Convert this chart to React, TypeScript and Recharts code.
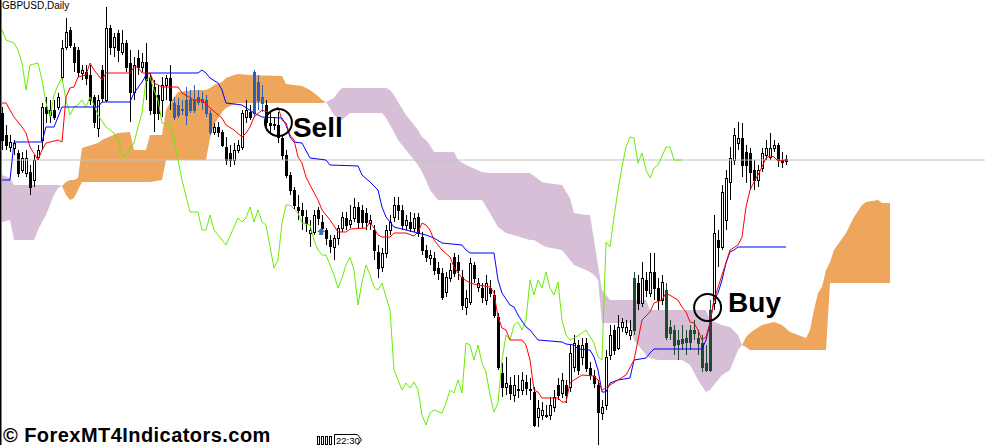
import {
  Area,
  Bar,
  ComposedChart,
  Line,
  ReferenceDot,
  ReferenceLine,
  XAxis,
  YAxis,
} from "recharts";

// daily bars: [open, high, low, close]
const ohlc: [number, number, number, number][] = [
  [1.3387, 1.3393, 1.335, 1.336], [1.3365, 1.3375, 1.335, 1.3355], [1.3353, 1.3365, 1.3348, 1.3358],
  [1.3352, 1.336, 1.3345, 1.3357], [1.3347, 1.335, 1.3323, 1.3327], [1.333, 1.3348, 1.3327, 1.3342],
  [1.3327, 1.335, 1.3323, 1.3342], [1.3328, 1.3335, 1.3305, 1.3313], [1.332, 1.3345, 1.3313, 1.334],
  [1.3343, 1.3355, 1.334, 1.335], [1.336, 1.3397, 1.335, 1.3393], [1.3393, 1.3403, 1.3377, 1.3387],
  [1.3385, 1.34, 1.3377, 1.339], [1.339, 1.34, 1.338, 1.3383], [1.3393, 1.3407, 1.339, 1.3403],
  [1.3423, 1.346, 1.3418, 1.3452], [1.3453, 1.3482, 1.345, 1.3468], [1.347, 1.3473, 1.3452, 1.3455],
  [1.3453, 1.3457, 1.3428, 1.3438], [1.345, 1.3453, 1.3423, 1.3428], [1.3427, 1.3435, 1.342, 1.343],
  [1.3428, 1.3435, 1.3415, 1.3422], [1.3425, 1.3435, 1.3395, 1.34], [1.3403, 1.3405, 1.3372, 1.3378],
  [1.3372, 1.3405, 1.3363, 1.34], [1.343, 1.3435, 1.3398, 1.3402], [1.34, 1.3493, 1.3398, 1.3472],
  [1.3472, 1.3475, 1.3445, 1.3453], [1.3453, 1.3467, 1.3443, 1.3463], [1.3467, 1.347, 1.3438, 1.345],
  [1.3448, 1.347, 1.3445, 1.3457], [1.3457, 1.346, 1.3428, 1.3433], [1.3437, 1.345, 1.3378, 1.3408],
  [1.3408, 1.3443, 1.34, 1.3435], [1.3442, 1.345, 1.3425, 1.3433], [1.3433, 1.3447, 1.3428, 1.3438],
  [1.3438, 1.3457, 1.34, 1.342], [1.3423, 1.3427, 1.3385, 1.339], [1.3413, 1.342, 1.3368, 1.3387],
  [1.3405, 1.3415, 1.338, 1.3387], [1.34, 1.3423, 1.3383, 1.3415], [1.3415, 1.3425, 1.34, 1.3422],
  [1.3422, 1.3435, 1.339, 1.34], [1.3397, 1.3403, 1.338, 1.3383], [1.3385, 1.3402, 1.3382, 1.3395],
  [1.3391, 1.34, 1.3385, 1.339], [1.3385, 1.3413, 1.3375, 1.34], [1.339, 1.341, 1.3387, 1.3401],
  [1.34, 1.3415, 1.3387, 1.339], [1.3398, 1.341, 1.3395, 1.3403], [1.3401, 1.3408, 1.339, 1.3398],
  [1.34, 1.3405, 1.3383, 1.3387], [1.3387, 1.339, 1.3365, 1.3368], [1.3368, 1.3377, 1.3365, 1.3373],
  [1.3373, 1.3378, 1.3363, 1.3368], [1.3368, 1.337, 1.3353, 1.3355], [1.3353, 1.3363, 1.3335, 1.334],
  [1.3347, 1.3355, 1.3333, 1.334], [1.334, 1.3357, 1.3335, 1.335], [1.335, 1.336, 1.3347, 1.3355],
  [1.3353, 1.339, 1.335, 1.3387], [1.3383, 1.34, 1.3377, 1.339], [1.3388, 1.3395, 1.338, 1.3383],
  [1.3387, 1.343, 1.3383, 1.3428], [1.3418, 1.3425, 1.339, 1.34], [1.3403, 1.3415, 1.3388, 1.3397],
  [1.3395, 1.34, 1.337, 1.3378], [1.3377, 1.3387, 1.3367, 1.3375], [1.3375, 1.3383, 1.337, 1.3376],
  [1.3375, 1.3388, 1.3357, 1.3363], [1.3362, 1.3365, 1.334, 1.3345], [1.3345, 1.335, 1.3322, 1.3325],
  [1.3325, 1.3328, 1.3305, 1.331], [1.331, 1.3313, 1.329, 1.3295], [1.3293, 1.3305, 1.328, 1.329],
  [1.329, 1.3297, 1.327, 1.3285], [1.3283, 1.329, 1.3268, 1.3277], [1.3267, 1.328, 1.3253, 1.327],
  [1.3268, 1.329, 1.3265, 1.3285], [1.329, 1.3293, 1.3275, 1.3282], [1.3278, 1.3285, 1.3267, 1.3272],
  [1.327, 1.3272, 1.3255, 1.3262], [1.326, 1.3265, 1.3247, 1.3254], [1.3253, 1.3265, 1.324, 1.3262],
  [1.3262, 1.3275, 1.3255, 1.3272], [1.3272, 1.3288, 1.3268, 1.3283], [1.3282, 1.3288, 1.327, 1.3275],
  [1.3276, 1.3295, 1.3272, 1.328], [1.3282, 1.3302, 1.3278, 1.3293], [1.3293, 1.3298, 1.3272, 1.3278],
  [1.329, 1.3295, 1.3272, 1.3278], [1.3287, 1.3292, 1.327, 1.3278], [1.3277, 1.3285, 1.327, 1.328],
  [1.327, 1.3275, 1.324, 1.325], [1.3248, 1.3255, 1.3222, 1.3232], [1.3233, 1.3252, 1.3228, 1.3247],
  [1.3247, 1.3275, 1.3242, 1.327], [1.327, 1.3285, 1.3265, 1.3278], [1.3283, 1.3303, 1.3278, 1.3295],
  [1.3295, 1.3303, 1.328, 1.329], [1.329, 1.3295, 1.327, 1.3275], [1.3275, 1.3285, 1.327, 1.328],
  [1.3278, 1.3288, 1.3268, 1.3272], [1.3272, 1.3287, 1.3268, 1.3282], [1.3283, 1.3287, 1.3263, 1.3267],
  [1.3263, 1.3268, 1.3245, 1.325], [1.325, 1.3255, 1.3238, 1.3243], [1.3242, 1.325, 1.3235, 1.3245],
  [1.3242, 1.3248, 1.3225, 1.323], [1.3232, 1.3238, 1.322, 1.3227], [1.3227, 1.3232, 1.32, 1.3203],
  [1.3208, 1.3228, 1.3203, 1.3223], [1.3222, 1.3237, 1.3218, 1.323], [1.3243, 1.3247, 1.3223, 1.3227],
  [1.3238, 1.3245, 1.322, 1.323], [1.3223, 1.323, 1.319, 1.3195], [1.3193, 1.321, 1.3185, 1.3202],
  [1.3198, 1.3242, 1.3195, 1.3237], [1.3235, 1.3238, 1.3217, 1.3222], [1.3213, 1.3222, 1.3208, 1.3217],
  [1.3212, 1.3217, 1.3197, 1.3203], [1.32, 1.3225, 1.3195, 1.3217], [1.3212, 1.322, 1.3203, 1.3207],
  [1.3205, 1.321, 1.3182, 1.3185], [1.3183, 1.3187, 1.313, 1.3133], [1.3127, 1.3137, 1.3103, 1.3113],
  [1.3113, 1.3143, 1.3105, 1.3117], [1.3115, 1.3123, 1.31, 1.3107], [1.3105, 1.3125, 1.3098, 1.3115],
  [1.3111, 1.3125, 1.3102, 1.311], [1.311, 1.3128, 1.3105, 1.312], [1.3118, 1.3125, 1.3105, 1.3112],
  [1.311, 1.3122, 1.31, 1.3111], [1.3108, 1.3113, 1.3073, 1.3075], [1.3083, 1.31, 1.3073, 1.3092],
  [1.3085, 1.3098, 1.308, 1.309], [1.3084, 1.3095, 1.3082, 1.3085], [1.3085, 1.3103, 1.308, 1.3095],
  [1.3093, 1.311, 1.3088, 1.3103], [1.3115, 1.3122, 1.31, 1.3105], [1.3107, 1.3127, 1.3102, 1.312],
  [1.3115, 1.312, 1.3097, 1.3105], [1.3113, 1.3155, 1.3108, 1.3147], [1.3133, 1.3165, 1.3128, 1.3157],
  [1.3155, 1.316, 1.3125, 1.313], [1.3143, 1.3162, 1.3135, 1.3155], [1.3157, 1.3162, 1.3128, 1.3132],
  [1.3132, 1.3138, 1.312, 1.3125], [1.3124, 1.313, 1.3112, 1.3117], [1.3115, 1.312, 1.3055, 1.3088],
  [1.3087, 1.31, 1.308, 1.3093], [1.3095, 1.315, 1.309, 1.3143], [1.3145, 1.3175, 1.314, 1.3165],
  [1.317, 1.3175, 1.3145, 1.315], [1.3152, 1.3185, 1.315, 1.3173], [1.3173, 1.3182, 1.3168, 1.3178],
  [1.3168, 1.318, 1.3165, 1.3173], [1.3165, 1.318, 1.316, 1.317], [1.317, 1.3228, 1.3165, 1.3222],
  [1.3217, 1.3225, 1.319, 1.3197], [1.3197, 1.3238, 1.3193, 1.3222], [1.322, 1.3228, 1.3203, 1.321],
  [1.3207, 1.3247, 1.3203, 1.3228], [1.3228, 1.3247, 1.32, 1.3212], [1.3212, 1.3222, 1.319, 1.32],
  [1.32, 1.3225, 1.3195, 1.3218], [1.321, 1.3217, 1.316, 1.3163], [1.3173, 1.318, 1.316, 1.3167],
  [1.317, 1.3175, 1.3145, 1.3155], [1.3156, 1.317, 1.314, 1.316], [1.3157, 1.3175, 1.315, 1.3161],
  [1.3158, 1.317, 1.3145, 1.3162], [1.3158, 1.3175, 1.315, 1.317], [1.3167, 1.318, 1.316, 1.317],
  [1.3162, 1.317, 1.3145, 1.3157], [1.3157, 1.3165, 1.3128, 1.3133], [1.3137, 1.3155, 1.3128, 1.313],
  [1.313, 1.32, 1.3128, 1.319], [1.3197, 1.3285, 1.319, 1.3267], [1.326, 1.327, 1.3233, 1.3253],
  [1.3253, 1.3315, 1.325, 1.3308], [1.328, 1.333, 1.327, 1.3322], [1.3318, 1.3353, 1.33, 1.3342],
  [1.334, 1.3372, 1.3335, 1.3365], [1.3357, 1.3378, 1.335, 1.3362], [1.3362, 1.3377, 1.3323, 1.3335],
  [1.3348, 1.3355, 1.3317, 1.3335], [1.3347, 1.3352, 1.331, 1.3328], [1.333, 1.334, 1.331, 1.332],
  [1.332, 1.3335, 1.3313, 1.333], [1.3332, 1.3352, 1.3328, 1.3347], [1.3345, 1.336, 1.334, 1.3352],
  [1.3343, 1.3367, 1.334, 1.3352], [1.3352, 1.336, 1.3348, 1.3355], [1.3355, 1.3357, 1.3333, 1.334],
  [1.334, 1.3348, 1.3332, 1.3338], [1.3341, 1.3345, 1.3335, 1.3339],
];

// ichimoku lines: [bar, price]
const tenkan: [number, number][] = [
  [0, 1.3397], [1, 1.3397], [2, 1.339], [3, 1.3383], [5, 1.3373], [6, 1.3367], [7, 1.3353], [9, 1.334],
  [10, 1.335], [11, 1.3357], [14, 1.336], [15, 1.3358], [16, 1.3403], [17, 1.3412], [18, 1.3413],
  [19, 1.3423], [21, 1.3425], [22, 1.3437], [23, 1.343], [25, 1.342], [26, 1.3427], [32, 1.3427],
  [33, 1.3433], [34, 1.3433], [35, 1.3427], [37, 1.3427], [38, 1.3417], [40, 1.3413], [44, 1.3413],
  [45, 1.3407], [48, 1.34], [50, 1.34], [52, 1.3392], [55, 1.3382], [56, 1.3375], [58, 1.337],
  [60, 1.3363], [61, 1.3367], [62, 1.3373], [63, 1.3383], [65, 1.339], [67, 1.3387], [69, 1.3393],
  [70, 1.338], [71, 1.3377], [72, 1.3365], [73, 1.336], [74, 1.3343], [75, 1.3337], [76, 1.3323],
  [77, 1.3315], [79, 1.33], [80, 1.329], [82, 1.328], [84, 1.3268], [86, 1.3268], [87, 1.3271],
  [91, 1.3272], [92, 1.3278], [93, 1.3272], [94, 1.3265], [95, 1.3263], [97, 1.3263], [98, 1.3267],
  [101, 1.3267], [103, 1.3264], [104, 1.3268], [105, 1.3277], [106, 1.3275], [107, 1.327], [108, 1.326],
  [110, 1.325], [112, 1.3243], [113, 1.3233], [114, 1.3227], [115, 1.3222], [117, 1.3217], [119, 1.3215],
  [122, 1.3213], [123, 1.3207], [124, 1.3183], [125, 1.3172], [126, 1.317], [127, 1.316], [130, 1.316],
  [131, 1.3155], [132, 1.314], [133, 1.311], [134, 1.3108], [135, 1.3102], [139, 1.3102], [140, 1.3098],
  [141, 1.3098], [142, 1.3117], [143, 1.312], [145, 1.3125], [148, 1.3124], [149, 1.312], [150, 1.311],
  [152, 1.3115], [156, 1.3125], [158, 1.314], [160, 1.318], [162, 1.3188], [163, 1.3197], [165, 1.32],
  [166, 1.3207], [169, 1.32], [170, 1.3193], [171, 1.3188], [172, 1.3178], [173, 1.3177], [174, 1.317],
  [175, 1.316], [176, 1.3163], [177, 1.3177], [178, 1.32], [180, 1.3225], [182, 1.325], [184, 1.3255],
  [185, 1.3263], [186, 1.3293], [187, 1.331], [188, 1.3318], [189, 1.3325], [190, 1.3333], [191, 1.3342],
  [192, 1.3344], [193, 1.3343], [194, 1.3339], [196, 1.334],
];

const kijun: [number, number][] = [
  [0, 1.332], [2, 1.332], [3, 1.3358], [10, 1.3358], [11, 1.3373], [13, 1.3373], [15, 1.3393], [24, 1.3393],
  [25, 1.3398], [32, 1.3398], [33, 1.3407], [35, 1.3418], [36, 1.3425], [37, 1.3427], [49, 1.3427],
  [50, 1.343], [51, 1.3427], [52, 1.3422], [54, 1.3417], [55, 1.341], [56, 1.3397], [60, 1.3395],
  [63, 1.3387], [65, 1.3383], [70, 1.3382], [71, 1.3375], [72, 1.3363], [73, 1.3358], [75, 1.3357],
  [77, 1.3342], [81, 1.334], [82, 1.3335], [89, 1.3334], [90, 1.3325], [92, 1.3318], [94, 1.331],
  [95, 1.3293], [96, 1.3283], [98, 1.3273], [101, 1.327], [104, 1.3267], [106, 1.3265], [108, 1.3262],
  [110, 1.3257], [115, 1.3255], [116, 1.325], [117, 1.3247], [123, 1.3247], [124, 1.322], [125, 1.3207],
  [127, 1.3195], [128, 1.3193], [129, 1.3185], [131, 1.3173], [132, 1.317], [134, 1.316], [140, 1.3158],
  [141, 1.3156], [143, 1.3155], [144, 1.3151], [147, 1.315], [148, 1.3143], [149, 1.313], [150, 1.3108],
  [151, 1.3108], [152, 1.3117], [154, 1.312], [157, 1.3122], [158, 1.314], [161, 1.3142], [162, 1.3147],
  [163, 1.3151], [175, 1.3151], [176, 1.316], [177, 1.3177], [178, 1.32], [179, 1.3207], [180, 1.322],
  [181, 1.3237], [182, 1.3248], [183, 1.325], [184, 1.3253], [196, 1.3253],
];

const chikou: [number, number][] = [
  [0, 1.347], [1, 1.346], [3, 1.3457], [4, 1.345], [5, 1.3437], [6, 1.341], [7, 1.3435], [9, 1.3437],
  [10, 1.342], [11, 1.3397], [12, 1.3383], [13, 1.3405], [14, 1.3415], [15, 1.3422], [16, 1.34],
  [17, 1.3385], [18, 1.3393], [19, 1.3395], [20, 1.34], [21, 1.3393], [22, 1.3403], [23, 1.3395],
  [24, 1.3385], [26, 1.3373], [28, 1.3367], [29, 1.336], [30, 1.3343], [31, 1.3345], [33, 1.3357],
  [34, 1.3373], [35, 1.3387], [36, 1.342], [37, 1.3423], [38, 1.341], [39, 1.34], [40, 1.3377],
  [42, 1.3375], [43, 1.336], [45, 1.332], [47, 1.3288], [49, 1.3288], [50, 1.327], [51, 1.327],
  [52, 1.3285], [53, 1.327], [56, 1.3255], [58, 1.3273], [59, 1.3282], [60, 1.3278], [61, 1.3282],
  [62, 1.3293], [63, 1.3278], [64, 1.329], [65, 1.3278], [66, 1.3275], [68, 1.3232], [69, 1.324],
  [70, 1.3277], [71, 1.3295], [72, 1.3295], [74, 1.3287], [75, 1.3277], [77, 1.3275], [78, 1.326],
  [79, 1.325], [80, 1.3245], [81, 1.3245], [82, 1.3235], [83, 1.3225], [84, 1.3212], [85, 1.3222],
  [86, 1.3235], [87, 1.3243], [88, 1.323], [89, 1.3195], [90, 1.3218], [91, 1.3235], [92, 1.3225],
  [93, 1.3213], [94, 1.321], [95, 1.3217], [96, 1.3203], [97, 1.319], [98, 1.313], [99, 1.312],
  [100, 1.311], [101, 1.3117], [102, 1.3112], [103, 1.3118], [104, 1.311], [105, 1.3085], [106, 1.3075],
  [107, 1.3087], [108, 1.309], [110, 1.3087], [111, 1.3097], [112, 1.311], [113, 1.3107], [114, 1.312],
  [115, 1.3107], [116, 1.3157], [117, 1.3155], [118, 1.314], [119, 1.3155], [120, 1.3137], [121, 1.3128],
  [122, 1.3105], [123, 1.3088], [124, 1.3097], [125, 1.314], [126, 1.3165], [127, 1.316], [128, 1.3175],
  [129, 1.3178], [130, 1.317], [131, 1.318], [132, 1.322], [133, 1.3205], [134, 1.322], [135, 1.3212],
  [136, 1.3228], [137, 1.3212], [138, 1.3205], [139, 1.3218], [140, 1.318], [141, 1.3165], [142, 1.316],
  [143, 1.3162], [145, 1.3167], [146, 1.317], [148, 1.3157], [149, 1.3143], [150, 1.314], [151, 1.3258],
  [152, 1.3253], [153, 1.3283], [154, 1.331], [155, 1.3333], [156, 1.3353], [157, 1.3363], [158, 1.3362],
  [159, 1.3337], [160, 1.3347], [161, 1.333], [162, 1.3322], [163, 1.3332], [164, 1.3335], [166, 1.3353],
  [167, 1.3353], [168, 1.334], [170, 1.334],
];

// kumo, shifted 26 bars ahead: [bar, senkou A, senkou B]
const kumo: [number, number, number][] = [
  [0, 1.3278, 1.3325], [2, 1.328, 1.3322], [3, 1.326, 1.3315], [8, 1.326, 1.3315], [9, 1.327, 1.3315],
  [10, 1.3278, 1.3315], [11, 1.3285, 1.3315], [12, 1.3295, 1.3315], [13, 1.3305, 1.3315],
  [14, 1.3312, 1.3315], [15, 1.3314, 1.3314], [16, 1.3318, 1.3305], [17, 1.332, 1.33], [18, 1.332, 1.3302],
  [19, 1.3322, 1.331], [20, 1.3352, 1.3318], [24, 1.3357, 1.3318], [25, 1.336, 1.3318], [29, 1.3367, 1.3318],
  [32, 1.3368, 1.3318], [33, 1.335, 1.3318], [36, 1.335, 1.3318], [37, 1.3365, 1.3318], [40, 1.3365, 1.332],
  [41, 1.339, 1.334], [42, 1.3397, 1.334], [44, 1.3408, 1.334], [48, 1.341, 1.334], [51, 1.341, 1.334],
  [52, 1.3412, 1.3362], [53, 1.3415, 1.3375], [55, 1.3418, 1.3388], [56, 1.3422, 1.3392], [58, 1.3425, 1.3396],
  [59, 1.3426, 1.3397], [62, 1.3425, 1.3397], [70, 1.3424, 1.3397], [71, 1.3416, 1.3397], [75, 1.3414, 1.3397],
  [77, 1.341, 1.3397], [79, 1.3404, 1.3397], [80, 1.34, 1.3397], [81, 1.3398, 1.3398], [83, 1.3385, 1.3402],
  [84, 1.3382, 1.3408], [85, 1.338, 1.3412], [87, 1.3387, 1.3412], [95, 1.3387, 1.3412], [96, 1.3382, 1.3412],
  [97, 1.3375, 1.341], [98, 1.3368, 1.3405], [99, 1.336, 1.3398], [101, 1.335, 1.3385], [103, 1.334, 1.3375],
  [104, 1.3335, 1.337], [105, 1.3328, 1.3363], [106, 1.332, 1.336], [107, 1.331, 1.3355], [108, 1.3305, 1.3348],
  [109, 1.33, 1.3348], [113, 1.33, 1.3348], [114, 1.33, 1.334], [116, 1.33, 1.3335], [120, 1.33, 1.3328],
  [122, 1.3287, 1.3327], [124, 1.3273, 1.3327], [126, 1.3267, 1.3327], [132, 1.326, 1.3327],
  [133, 1.326, 1.3324], [135, 1.3255, 1.3318], [136, 1.3253, 1.3317], [140, 1.325, 1.3315],
  [142, 1.324, 1.3302], [143, 1.3235, 1.3287], [146, 1.323, 1.3285], [147, 1.3228, 1.3285],
  [148, 1.3225, 1.326], [149, 1.322, 1.3235], [150, 1.3177, 1.321], [152, 1.3177, 1.32], [157, 1.3177, 1.32],
  [158, 1.316, 1.32], [161, 1.3145, 1.32], [162, 1.3142, 1.319], [164, 1.314, 1.319], [170, 1.314, 1.319],
  [172, 1.3135, 1.319], [174, 1.312, 1.319], [176, 1.3108, 1.319], [177, 1.311, 1.318], [178, 1.3115, 1.3178],
  [180, 1.3125, 1.3175], [182, 1.313, 1.3173], [184, 1.315, 1.3165], [185, 1.3155, 1.3155],
  [186, 1.3163, 1.3153], [187, 1.3167, 1.315], [188, 1.317, 1.315], [190, 1.3175, 1.315], [193, 1.3178, 1.315],
  [195, 1.3175, 1.315], [197, 1.3168, 1.315], [199, 1.3165, 1.315], [201, 1.3162, 1.315], [202, 1.317, 1.315],
  [203, 1.319, 1.315], [204, 1.3207, 1.315], [205, 1.3213, 1.315], [206, 1.323, 1.315], [207, 1.3238, 1.3217],
  [208, 1.325, 1.3217], [211, 1.3267, 1.3217], [213, 1.3283, 1.3217], [215, 1.3295, 1.3217],
  [216, 1.3298, 1.3217], [219, 1.33, 1.3217], [220, 1.3297, 1.3217], [222, 1.3297, 1.3217],
];

const BID = 1.334;
const SELL = { bar: 69.1, price: 1.33775, text: "Sell" };
const BUY = { bar: 176.4, price: 1.31925, text: "Buy" };
const ARROW = { bar: 79.8, price: 1.3268 };

const W = 985;
const H = 445;
const ORANGE = "#eea55c";
const PURPLE = "#d8bfd8";

type Row = Record<string, any>;

const rows: Row[] = Array.from({ length: 223 }, (_, i) => ({ i }));
ohlc.forEach(([o, h, l, c], i) => Object.assign(rows[i], { o, h, l, c, hl: [l, h] }));
tenkan.forEach(([i, v]) => (rows[i].tenkan = v));
kijun.forEach(([i, v]) => (rows[i].kijun = v));
chikou.forEach(([i, v]) => (rows[i].chikou = v));

// split the cloud into runs of one colour, the crossing bar shared by both runs
const runs: { key: string; color: string }[] = [];
let sign = 0;
let runKey = "";
kumo.forEach(([i, a, b], n) => {
  const s = Math.sign(a - b);
  if (s !== 0 && s !== sign) {
    runKey = `kumo${runs.length}`;
    runs.push({ key: runKey, color: s > 0 ? ORANGE : PURPLE });
    sign = s;
    const prev = kumo[n - 1];
    if (prev && prev[1] === prev[2]) rows[prev[0]][runKey] = [prev[2], prev[1]];
  }
  rows[i][runKey] = [Math.min(a, b), Math.max(a, b)];
});

function cloudAt(i: number) {
  for (let n = 1; n < kumo.length; n++) {
    const [i0, a0, b0] = kumo[n - 1];
    const [i1, a1, b1] = kumo[n];
    if (i < i0 || i > i1) continue;
    const t = (i - i0) / (i1 - i0);
    const a = a0 + (a1 - a0) * t;
    const b = b0 + (b1 - b0) * t;
    return { lo: Math.min(a, b), hi: Math.max(a, b), up: a >= b };
  }
  return null;
}

function Candle(props: any) {
  const { x, y, width, height, payload } = props;
  if (payload?.o == null || !Number.isFinite(y)) return null;
  const { o, h, l, c } = payload;
  const cx = Math.round(x + width / 2);
  const span = h - l || 1e-9;
  const py = (v: number) => y + ((h - v) / span) * height;
  const top = Math.round(py(Math.max(o, c)));
  const bot = Math.round(py(Math.min(o, c)));
  const bull = c > o;
  const k = cloudAt(payload.i);
  const mid = (o + c) / 2;
  const inCloud = k && mid >= k.lo && mid <= k.hi;
  let ink = "#000";
  let fill = bull ? "#fff" : "#000";
  if (inCloud && k.up) {
    ink = "#2a62b0";
    fill = "#2a62b0";
  } else if (inCloud) {
    ink = "#1f4a2c";
    fill = bull ? "none" : "#1f4a2c";
  }
  return (
    <g>
      <line x1={cx + 0.5} x2={cx + 0.5} y1={y} y2={y + height} stroke={ink} strokeWidth={1} />
      <rect x={cx - 0.5} y={top + 0.5} width={2} height={Math.max(bot - top, 0)} fill={fill} stroke={ink} strokeWidth={1} />
    </g>
  );
}

function Marker(props: any) {
  const { cx, cy, label, dx, dy } = props;
  if (!Number.isFinite(cx)) return null;
  return (
    <g>
      <circle cx={cx} cy={cy} r={13.5} fill="none" stroke="#000" strokeWidth={2} />
      <text x={cx + dx} y={cy + dy} fontFamily="Liberation Sans, Arial, sans-serif" fontWeight={700} fontSize={28} fill="#000">
        {label}
      </text>
    </g>
  );
}

function UpArrow(props: any) {
  const { cx, cy } = props;
  if (!Number.isFinite(cx)) return null;
  return (
    <path
      d={`M${cx} ${cy - 4} L${cx + 4} ${cy} L${cx + 2} ${cy} L${cx + 2} ${cy + 3} L${cx - 2} ${cy + 3} L${cx - 2} ${cy} L${cx - 4} ${cy} Z`}
      fill="#3a6fb5"
    />
  );
}

export default function App() {
  return (
    <div style={{ position: "absolute", left: 0, top: 0, width: W, height: H, background: "#fff", overflow: "hidden" }}>
      <ComposedChart width={W} height={H} data={rows} margin={{ top: 0, right: 0, bottom: 0, left: 0 }}>
        <XAxis dataKey="i" type="number" domain={[-0.5, 245.75]} allowDataOverflow hide />
        <YAxis type="number" domain={[1.3055, 1.35]} allowDataOverflow hide />
        {runs.map((r) => (
          <Area
            key={r.key}
            dataKey={r.key}
            type="linear"
            connectNulls
            stroke="none"
            fill={r.color}
            fillOpacity={1}
            dot={false}
            activeDot={false}
            isAnimationActive={false}
          />
        ))}
        <ReferenceLine y={BID} stroke="#c0c0c0" strokeWidth={1} />
        <Line dataKey="chikou" type="linear" connectNulls stroke="#66ee00" strokeWidth={1} dot={false} activeDot={false} isAnimationActive={false} />
        <Bar dataKey="hl" barSize={3} shape={<Candle />} isAnimationActive={false} />
        <Line dataKey="kijun" type="linear" connectNulls stroke="#0000ff" strokeWidth={1} dot={false} activeDot={false} isAnimationActive={false} />
        <Line dataKey="tenkan" type="linear" connectNulls stroke="#ff0000" strokeWidth={1} dot={false} activeDot={false} isAnimationActive={false} />
        <ReferenceDot x={ARROW.bar} y={ARROW.price} r={4} shape={<UpArrow />} />
        <ReferenceDot x={SELL.bar} y={SELL.price} r={13} shape={<Marker label={SELL.text} dx={14.5} dy={14.5} />} />
        <ReferenceDot x={BUY.bar} y={BUY.price} r={13} shape={<Marker label={BUY.text} dx={20.5} dy={4.5} />} />
      </ComposedChart>
      <svg width={W} height={H} style={{ position: "absolute", left: 0, top: 0, pointerEvents: "none" }}>
        <rect x={0} y={0} width={1.5} height={H} fill="#000" />
        <text x={2} y={9} fontFamily="Liberation Sans, Arial, sans-serif" fontSize={10} fill="#000">
          GBPUSD,Daily
        </text>
        <text x={3} y={442} fontFamily="Liberation Sans, Arial, sans-serif" fontWeight={700} fontSize={20} letterSpacing={0.45} fill="#000">
          © ForexMT4Indicators.com
        </text>
        <g stroke="#000" strokeWidth={1} fill="none">
          <rect x={317.5} y={436.5} width={2} height={8} />
          <rect x={321.5} y={436.5} width={2} height={8} />
          <rect x={325.5} y={436.5} width={2} height={8} />
          <rect x={329.5} y={436.5} width={2} height={8} />
          <path d="M334.5 434.5 H357.5 L361.5 440 L357.5 445" />
          <path d="M334.5 434.5 V445" />
        </g>
        <text x={336} y={443.5} fontFamily="Liberation Sans, Arial, sans-serif" fontSize={9.5} fill="#000">
          22:30
        </text>
      </svg>
    </div>
  );
}
